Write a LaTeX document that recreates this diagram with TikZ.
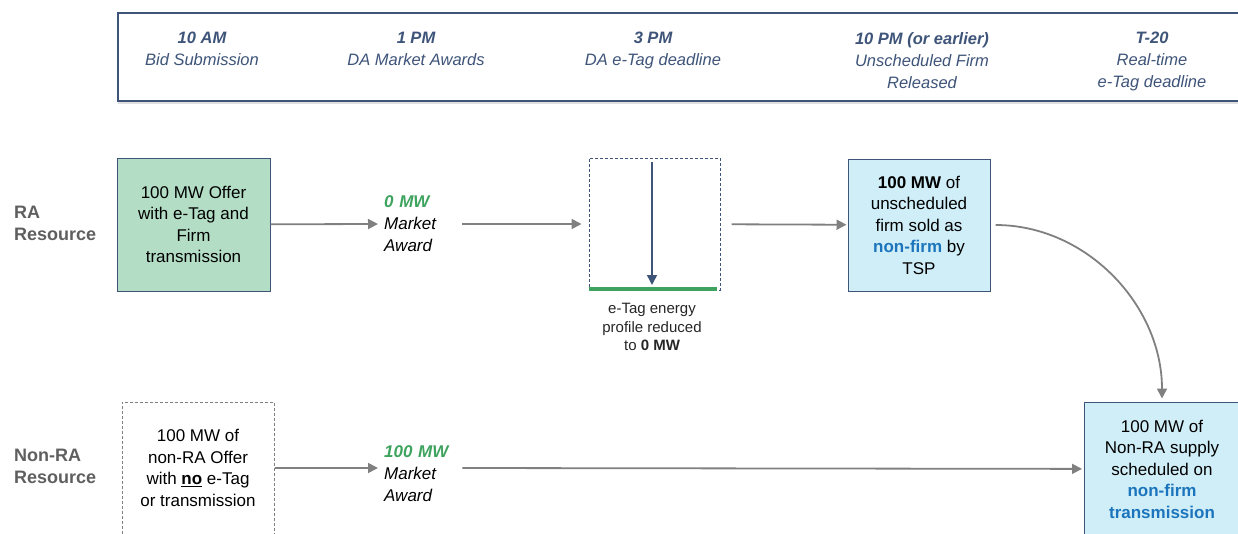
\documentclass[tikz,border=0pt]{standalone}
\usepackage{fontspec}
\setmainfont{Liberation Sans}
\usetikzlibrary{arrows.meta,shadows}
\definecolor{hdr}{HTML}{3E5479}
\definecolor{lblgray}{HTML}{5F5F5F}
\definecolor{arrgray}{HTML}{808080}
\definecolor{rafill}{HTML}{B3DEC5}
\definecolor{nffill}{HTML}{D0EEF8}
\definecolor{awgreen}{HTML}{3EA35E}
\definecolor{nfblue}{HTML}{1C75BC}
\tikzset{
  arr/.style={draw=arrgray, line width=1.8pt, -{Triangle[length=10pt,width=10pt]}},
  box/.style={draw=hdr, line width=1pt, align=center, inner sep=0pt,
    font=\fontsize{17}{21.5}\selectfont},
  dash box/.style={dash pattern=on 3pt off 2pt},
  award/.style={anchor=west, align=left, text width=72pt, inner sep=6pt,
    font=\fontsize{17}{22}\selectfont\itshape},
  rowlbl/.style={anchor=west, align=left, inner sep=0pt, text=lblgray,
    font=\fontsize{18}{22}\selectfont\bfseries},
  hdrtxt/.style={anchor=north, align=center, inner sep=0pt, text=hdr,
    font=\fontsize{16.5}{22}\selectfont\itshape}
}
\begin{document}
\begin{tikzpicture}[x=1pt,y=-1pt]
\useasboundingbox (0,0) rectangle (1238,533);
\clip (0,0) rectangle (1238,533);
\node[draw=hdr, fill=white, line width=2pt, minimum width=1150pt, minimum height=88pt, anchor=north west,
  drop shadow={shadow xshift=0pt, shadow yshift=-3pt, opacity=0.25, fill=black!50}] (H) at (117,12) {};
\node[hdrtxt] (H0) at (202,32) {\textbf{10 AM}\\Bid Submission};
\node[hdrtxt] (H1) at (416,32) {\textbf{1 PM}\\DA Market Awards};
\node[hdrtxt] (H2) at (653,32) {\textbf{3 PM}\\DA e-Tag deadline};
\node[hdrtxt] (H3) at (922,32) {\textbf{10 PM (or earlier)}\\Unscheduled Firm\\Released};
\node[hdrtxt] (H4) at (1152,32) {\textbf{T-20}\\Real-time\\e-Tag deadline};
% RA row
\node[rowlbl] (L0) at (14,223) {RA\\Resource};
\node[box, fill=rafill, minimum width=153pt, minimum height=133pt] (A) at (193.5,224.5)
  {100 MW Offer\\with e-Tag and\\Firm\\transmission};
\node[award] (W0) at (378,224) {\textcolor{awgreen}{\textbf{0 MW}}\\Market\\Award};
\node[box, dash box, minimum width=131pt, minimum height=132pt] (D) at (654.5,224) {};
\coordinate (D0) at (652,162);
\coordinate (D1) at (652,285);
\node[anchor=north, align=center, inner sep=0pt, text=black!85,
  font=\fontsize{15}{18.5}\selectfont] (D2) at (652,303) {e-Tag energy\\profile reduced\\to \textbf{0 MW}};
\node[box, fill=nffill, minimum width=142pt, minimum height=132pt] (B) at (919,225)
  {\textbf{100 MW} of\\unscheduled\\firm sold as\\\textcolor{nfblue}{\textbf{non-firm}} by\\TSP};
\draw[arr] (A) -- (W0.west);
\draw[arr, shorten >=7pt] (W0.east) -- (D);
\draw[arr, shorten <=11pt, shorten >=1pt] (D) -- (B);
\draw[draw=hdr, line width=1.5pt, -{Triangle[length=10pt,width=10pt]}] (D0) -- (D1);
\draw[line width=4pt, awgreen] ([yshift=2pt]D.south west) -- ([xshift=-4pt,yshift=2pt]D.south east);
% Non-RA row
\node[rowlbl] (L1) at (14,466) {Non-RA\\Resource};
\node[box, draw=arrgray, dash box, minimum width=152pt, minimum height=132pt] (E) at (198,468)
  {100 MW of\\non-RA Offer\\with \underline{\textbf{no}} e-Tag\\or transmission};
\node[award] (W1) at (378,474) {\textcolor{awgreen}{\textbf{100 MW}}\\Market\\Award};
\node[box, fill=nffill, minimum width=155pt, minimum height=134pt] (C) at (1162,469)
  {100 MW of\\Non-RA supply\\scheduled on\\\textcolor{nfblue}{\textbf{non-firm}}\\\textcolor{nfblue}{\textbf{transmission}}};
\draw[arr] (E) -- (E -| W1.west);
\draw[arr, shorten >=2pt] (W1.east |- E) -- (C);
\draw[arr, shorten <=5pt, shorten >=3pt] (B.east) to[out=0,in=90] (C.north);
\end{tikzpicture}
\end{document}
